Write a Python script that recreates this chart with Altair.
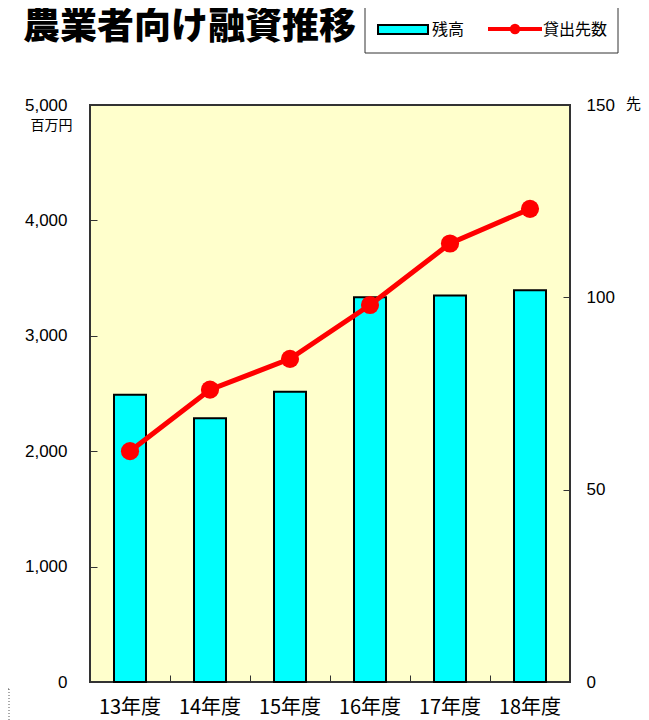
import altair as alt
import pandas as pd

# ---- data ----
years = ["13年度", "14年度", "15年度", "16年度", "17年度", "18年度"]
balance = [2490, 2285, 2515, 3335, 3350, 3395]      # 残高 (百万円)
borrowers = [60, 76, 84, 98, 114, 123]              # 貸出先数 (先)
left_ticks = [0, 1000, 2000, 3000, 4000, 5000]
right_ticks = [0, 50, 100, 150]
title_text = ["農業者向け融資推移"]
legend_labels = ["残高", "貸出先数"]

df = pd.DataFrame({"year": years, "balance": balance, "borrowers": borrowers})
one = pd.DataFrame({"t": title_text})

JP = "Noto Sans CJK JP"
NUM = "Liberation Sans"
W, H = 480, 577

xscale = alt.Scale(domain=years, paddingInner=0, paddingOuter=0)
lscale = alt.Scale(domain=[0, 5000], nice=False)
rscale = alt.Scale(domain=[0, 150], nice=False)

base = alt.Chart(df)

bars = base.mark_bar(width=alt.RelativeBandSize(0.4), fill="#00FFFF",
                     stroke="#000000", strokeWidth=2).encode(
    x=alt.X("year:N", sort=years, scale=xscale,
            axis=alt.Axis(orient="bottom", title=None, ticks=False, domain=False,
                          labelAngle=0, labelFont=JP, labelFontSize=20,
                          labelColor="#000000", labelPadding=15, grid=False)),
    y=alt.Y("balance:Q", scale=lscale,
            axis=alt.Axis(orient="left", values=left_ticks, format=",.0f", ticks=False,
                          domain=False, grid=False, labelFont=NUM, labelFontSize=17,
                          labelColor="#000000", labelPadding=23,
                          title="百万円", titleAngle=0, titleX=-39, titleY=20,
                          titleAlign="center", titleBaseline="middle", titleFont=JP,
                          titleFontSize=14, titleFontWeight="normal", titleColor="#000000")),
)

line = base.mark_line(color="#FF0000", strokeWidth=5,
                      point=alt.OverlayMarkDef(filled=True, color="#FF0000", size=330, opacity=1)).encode(
    x=alt.X("year:N", sort=years, scale=xscale, axis=None),
    y=alt.Y("borrowers:Q", scale=rscale,
            axis=alt.Axis(orient="right", values=right_ticks, format=".0f", ticks=False,
                          domain=False, grid=False, labelFont=NUM, labelFontSize=17,
                          labelColor="#000000", labelPadding=16, title="先", titleAngle=0,
                          titleX=63, titleY=-2, titleAlign="center", titleBaseline="middle",
                          titleFont=JP, titleFontSize=15, titleFontWeight="normal",
                          titleColor="#000000")),
)

tk_l = base.mark_point(opacity=0).encode(
    x=alt.X("year:N", sort=years, scale=xscale,
            axis=alt.Axis(orient="top", offset=-H, labels=False, domain=False, ticks=True,
                          tickSize=7, tickBand="extent", tickColor="#333333", tickWidth=1,
                          title=None, grid=False)),
    y=alt.Y("balance:Q", scale=lscale,
            axis=alt.Axis(orient="right", offset=-W, values=left_ticks, labels=False,
                          domain=False, ticks=True, tickSize=7, tickColor="#333333",
                          tickWidth=1, title=None, grid=False)),
)

tk_r = base.mark_point(opacity=0).encode(
    x=alt.X("year:N", sort=years, scale=xscale, axis=None),
    y=alt.Y("borrowers:Q", scale=rscale,
            axis=alt.Axis(orient="left", offset=-W, values=right_ticks, labels=False,
                          domain=False, ticks=True, tickSize=7, tickColor="#333333",
                          tickWidth=1, title=None, grid=False)),
)

ann = alt.Chart(one)
title = ann.mark_text(align="left", baseline="middle", font=JP, fontSize=37,
                      fontWeight=900, color="#000000").encode(
    x=alt.value(-67), y=alt.value(-77), text="t:N")

box = ann.mark_rect(fill="#FFFFFF", stroke="#333333", strokeWidth=1).encode(
    x=alt.value(275), x2=alt.value(528), y=alt.value(-98), y2=alt.value(-52))
swatch = ann.mark_rect(fill="#00FFFF", stroke="#000000", strokeWidth=2).encode(
    x=alt.value(288), x2=alt.value(338), y=alt.value(-80), y2=alt.value(-71))
lab1 = ann.mark_text(align="left", baseline="middle", font=JP, fontSize=16,
                     color="#000000", text=legend_labels[0]).encode(
    x=alt.value(342), y=alt.value(-75))
lline = ann.mark_rule(color="#FF0000", strokeWidth=4).encode(
    x=alt.value(398), x2=alt.value(452), y=alt.value(-76))
ldot = ann.mark_point(filled=True, color="#FF0000", size=110, opacity=1).encode(
    x=alt.value(425), y=alt.value(-76))
lab2 = ann.mark_text(align="left", baseline="middle", font=JP, fontSize=16,
                     color="#000000", text=legend_labels[1]).encode(
    x=alt.value(453), y=alt.value(-75))

dot_v = ann.mark_rule(color="#555555", strokeWidth=1, strokeDash=[1, 2]).encode(
    x=alt.value(-81), y=alt.value(584), y2=alt.value(620))
dot_h = ann.mark_rule(color="#555555", strokeWidth=1, strokeDash=[1, 2]).encode(
    x=alt.value(-88), x2=alt.value(-81), y=alt.value(584))

chart = alt.layer(
    bars, line, tk_l, tk_r, title, box, swatch, lab1, lline, ldot, lab2, dot_v, dot_h
).resolve_scale(y="independent").resolve_axis(x="independent", y="independent").properties(
    width=W, height=H,
    autosize=alt.AutoSizeParams(type="none"),
    padding={"left": 82, "top": 97, "right": 71, "bottom": 38},
    background="#FFFFFF",
).configure_view(fill="#FFFFCC", stroke="#333333", strokeWidth=2)

chart.save("out.html", embed_options={"renderer": "svg", "actions": False})
